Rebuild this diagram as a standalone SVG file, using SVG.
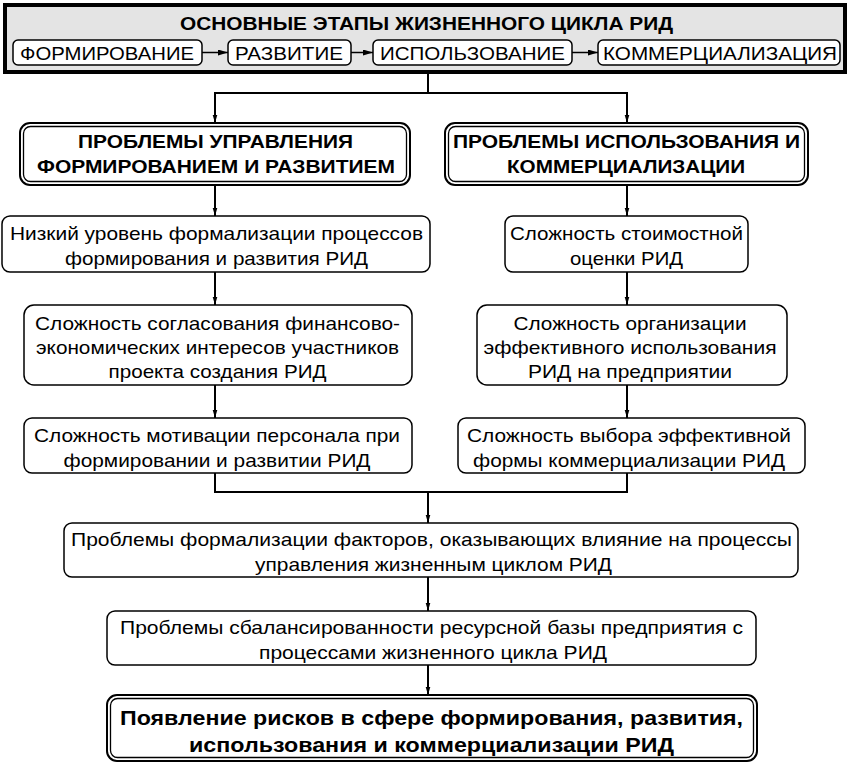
<svg xmlns="http://www.w3.org/2000/svg" width="850" height="764" viewBox="0 0 850 764">
<defs>
<style>
.t{font-family:"Liberation Sans",Arial,sans-serif;font-size:19px;fill:#000;text-anchor:middle}
.b{font-weight:bold}
.f{font-size:21px}
.box{fill:#fff;stroke:#000;stroke-width:1.5}
.dbl{fill:#fff;stroke:#000;stroke-width:2}
.dbli{fill:none;stroke:#000;stroke-width:1.3}
.c{fill:none;stroke:#000;stroke-width:2}
.cs{fill:none;stroke:#000;stroke-width:1.5}
</style>
<marker id="ah" markerWidth="8" markerHeight="14" refX="14" refY="4" viewBox="0 0 14 8" orient="auto" markerUnits="userSpaceOnUse">
<path d="M0,0 L14,4 L0,8 z" fill="#000"/>
</marker>
<marker id="ahs" markerWidth="10" markerHeight="6" refX="10" refY="3" viewBox="0 0 10 6" orient="auto" markerUnits="userSpaceOnUse">
<path d="M0,0 L10,3 L0,6 z" fill="#000"/>
</marker>
</defs>

<g id="stages">
<rect x="5" y="5" width="840" height="67" fill="#e4e4e4" stroke="#000" stroke-width="4"/>
<text class="t b" x="426.5" y="30" textLength="493" lengthAdjust="spacingAndGlyphs">ОСНОВНЫЕ ЭТАПЫ ЖИЗНЕННОГО ЦИКЛА РИД</text>
<g id="stage1"><rect class="box" x="13" y="40" width="189" height="25" rx="5"/><text class="t" x="107" y="59.5" textLength="174" lengthAdjust="spacingAndGlyphs">ФОРМИРОВАНИЕ</text></g>
<g id="stage2"><rect class="box" x="228" y="40" width="123" height="25" rx="5"/><text class="t" x="289" y="59.5" textLength="108" lengthAdjust="spacingAndGlyphs">РАЗВИТИЕ</text></g>
<g id="stage3"><rect class="box" x="373" y="40" width="199" height="25" rx="5"/><text class="t" x="472.5" y="59.5" textLength="185" lengthAdjust="spacingAndGlyphs">ИСПОЛЬЗОВАНИЕ</text></g>
<g id="stage4"><rect class="box" x="598" y="40" width="242" height="25" rx="5"/><text class="t" x="720" y="59.5" textLength="234" lengthAdjust="spacingAndGlyphs">КОММЕРЦИАЛИЗАЦИЯ</text></g>
</g>

<g id="connectors">
<line class="cs" x1="202" y1="52.5" x2="228" y2="52.5" marker-end="url(#ahs)"/>
<line class="cs" x1="351" y1="52.5" x2="373" y2="52.5" marker-end="url(#ahs)"/>
<line class="cs" x1="572" y1="52.5" x2="598" y2="52.5" marker-end="url(#ahs)"/>
<line class="c" x1="428" y1="72" x2="428" y2="93"/>
<line class="c" x1="215" y1="93" x2="627" y2="93"/>
<line class="c" x1="215" y1="92" x2="215" y2="123" marker-end="url(#ah)"/>
<line class="c" x1="627" y1="92" x2="627" y2="123" marker-end="url(#ah)"/>
<line class="c" x1="215" y1="185" x2="215" y2="216" marker-end="url(#ah)"/>
<line class="c" x1="627" y1="185" x2="627" y2="216" marker-end="url(#ah)"/>
<line class="c" x1="215" y1="272" x2="215" y2="305" marker-end="url(#ah)"/>
<line class="c" x1="627" y1="272" x2="627" y2="305" marker-end="url(#ah)"/>
<line class="c" x1="215" y1="385" x2="215" y2="418" marker-end="url(#ah)"/>
<line class="c" x1="627" y1="385" x2="627" y2="418" marker-end="url(#ah)"/>
<polyline class="c" points="215,473 215,492 627,492 627,473"/>
<line class="c" x1="428" y1="492" x2="428" y2="523" marker-end="url(#ah)"/>
<line class="c" x1="428" y1="577" x2="428" y2="611" marker-end="url(#ah)"/>
<line class="c" x1="428" y1="665" x2="428" y2="695" marker-end="url(#ah)"/>
</g>

<g id="hdrLeft">
<rect class="dbl" x="20" y="123" width="390" height="62" rx="10"/>
<rect class="dbli" x="23.5" y="126.5" width="383" height="55" rx="7"/>
<text class="t b" x="215.5" y="148" textLength="275" lengthAdjust="spacingAndGlyphs">ПРОБЛЕМЫ УПРАВЛЕНИЯ</text>
<text class="t b" x="216" y="173" textLength="358" lengthAdjust="spacingAndGlyphs">ФОРМИРОВАНИЕМ И РАЗВИТИЕМ</text>
</g>
<g id="hdrRight">
<rect class="dbl" x="445" y="123" width="363" height="62" rx="10"/>
<rect class="dbli" x="448.5" y="126.5" width="356" height="55" rx="7"/>
<text class="t b" x="626.5" y="148" textLength="347" lengthAdjust="spacingAndGlyphs">ПРОБЛЕМЫ ИСПОЛЬЗОВАНИЯ И</text>
<text class="t b" x="626" y="173" textLength="238" lengthAdjust="spacingAndGlyphs">КОММЕРЦИАЛИЗАЦИИ</text>
</g>

<g id="a1">
<rect class="box" x="2" y="216" width="428" height="56" rx="8"/>
<text class="t" x="216.5" y="240" textLength="413" lengthAdjust="spacingAndGlyphs">Низкий уровень формализации процессов</text>
<text class="t" x="216.5" y="265" textLength="303" lengthAdjust="spacingAndGlyphs">формирования и развития РИД</text>
</g>
<g id="b1">
<rect class="box" x="505" y="216" width="243" height="56" rx="8"/>
<text class="t" x="626.5" y="240" textLength="233" lengthAdjust="spacingAndGlyphs">Сложность стоимостной</text>
<text class="t" x="626.5" y="265" textLength="113" lengthAdjust="spacingAndGlyphs">оценки РИД</text>
</g>
<g id="a2">
<rect class="box" x="24" y="305" width="388" height="80" rx="10"/>
<text class="t" x="217.5" y="330" textLength="365" lengthAdjust="spacingAndGlyphs">Сложность согласования финансово-</text>
<text class="t" x="217.5" y="354" textLength="363" lengthAdjust="spacingAndGlyphs">экономических интересов участников</text>
<text class="t" x="217.5" y="378" textLength="218" lengthAdjust="spacingAndGlyphs">проекта создания РИД</text>
</g>
<g id="b2">
<rect class="box" x="477" y="305" width="310" height="80" rx="10"/>
<text class="t" x="630" y="330" textLength="233" lengthAdjust="spacingAndGlyphs">Сложность организации</text>
<text class="t" x="630" y="354" textLength="293" lengthAdjust="spacingAndGlyphs">эффективного использования</text>
<text class="t" x="630" y="378" textLength="204" lengthAdjust="spacingAndGlyphs">РИД на предприятии</text>
</g>
<g id="a3">
<rect class="box" x="24" y="418" width="388" height="55" rx="8"/>
<text class="t" x="217" y="442" textLength="366" lengthAdjust="spacingAndGlyphs">Сложность мотивации персонала при</text>
<text class="t" x="217" y="467" textLength="307" lengthAdjust="spacingAndGlyphs">формировании и развитии РИД</text>
</g>
<g id="b3">
<rect class="box" x="458" y="418" width="347" height="55" rx="8"/>
<text class="t" x="629" y="442" textLength="324" lengthAdjust="spacingAndGlyphs">Сложность выбора эффективной</text>
<text class="t" x="629" y="467" textLength="312" lengthAdjust="spacingAndGlyphs">формы коммерциализации РИД</text>
</g>
<g id="c1">
<rect class="box" x="64" y="523" width="734" height="54" rx="8"/>
<text class="t" x="431.5" y="546" textLength="721" lengthAdjust="spacingAndGlyphs">Проблемы формализации факторов, оказывающих влияние на процессы</text>
<text class="t" x="433.5" y="571" textLength="357" lengthAdjust="spacingAndGlyphs">управления жизненным циклом РИД</text>
</g>
<g id="c2">
<rect class="box" x="107" y="611" width="649" height="54" rx="8"/>
<text class="t" x="431.5" y="634" textLength="623" lengthAdjust="spacingAndGlyphs">Проблемы сбалансированности ресурсной базы предприятия с</text>
<text class="t" x="433" y="659" textLength="348" lengthAdjust="spacingAndGlyphs">процессами жизненного цикла РИД</text>
</g>
<g id="c3">
<rect class="dbl" x="107" y="695" width="650" height="66" rx="10"/>
<rect class="dbli" x="110.5" y="698.5" width="643" height="59" rx="7"/>
<text class="t b f" x="431.5" y="725" textLength="623" lengthAdjust="spacingAndGlyphs">Появление рисков в сфере формирования, развития,</text>
<text class="t b f" x="431.5" y="752" textLength="485" lengthAdjust="spacingAndGlyphs">использования и коммерциализации РИД</text>
</g>
</svg>
